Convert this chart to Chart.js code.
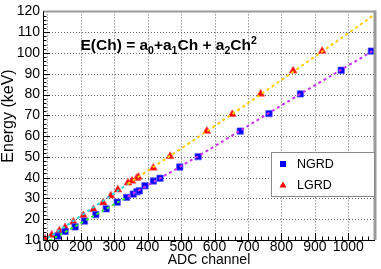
<!DOCTYPE html>
<html lang="en">
<head>
<meta charset="UTF-8" />
<title>ADC energy calibration</title>
<script src="https://cdn.jsdelivr.net/npm/chart.js"></script>
<style>
  html, body { margin: 0; padding: 0; background: #fff; }
  canvas { display: block; }
</style>
</head>
<body>
<canvas id="calib" width="381" height="269"></canvas>
<script>
// NGRD calibration points
const ngrdCh = [131, 153, 183, 211, 245, 276, 309, 337, 357, 368, 375, 392, 417, 437, 496, 551, 677, 763, 857, 979, 1069];
const ngrdE  = [11.9, 14.1, 16.3, 19.1, 22.2, 25.0, 28.2, 30.5, 32.1, 33.2, 33.7, 36.1, 38.4, 39.7, 45.1, 50.1, 62.4, 70.8, 80.3, 91.7, 100.9];

// LGRD calibration points
const lgrdCh = [93, 113, 136, 153, 178, 208, 238, 267, 290, 311, 341, 353, 367, 372, 417, 467, 577, 653, 738, 835, 922];
const lgrdE  = [10.5, 12.4, 14.4, 16.0, 18.7, 21.8, 24.7, 27.9, 31.3, 34.2, 37.5, 38.4, 39.7, 40.3, 44.7, 50.3, 62.4, 70.5, 80.3, 91.4, 100.9];

// fit curves as they appear on the plot (low range / high range)
const ngrdLowCh  = [90, 210, 340];
const ngrdLowE   = [8.2, 19.0, 30.8];
const ngrdHighCh = [340, 550, 850, 1080];
const ngrdHighE  = [30.8, 50.3, 79.6, 101.6];
const lgrdLowCh  = [85, 200, 340];
const lgrdLowE   = [9.2, 21.6, 36.9];
const lgrdHighCh = [340, 600, 850, 1080];
const lgrdHighE  = [36.9, 64.8, 92.6, 118.6];

const xTicks = [100, 200, 300, 400, 500, 600, 700, 800, 900, 1000];
const yTicks = [10, 20, 30, 40, 50, 60, 70, 80, 90, 100, 110, 120];

const toXY = (xs, ys) => xs.map((x, i) => ({ x: x, y: ys[i] }));
const FONT = "'Liberation Sans', Arial, sans-serif";

Chart.defaults.font.family = FONT;
Chart.defaults.color = "#000";

function fitLine(label, xs, ys, color) {
  return {
    type: "line",
    label: label,
    data: toXY(xs, ys),
    borderColor: color,
    borderWidth: 2,
    borderDash: [3, 3],
    pointRadius: 0,
    fill: false,
    tension: 0.4,
    order: 0
  };
}

// ROOT-like grid, frame, inward ticks, formula and legend box
const rootDecor = {
  id: "rootDecor",
  beforeDatasetsDraw(chart) {
    const ctx = chart.ctx;
    const a = chart.chartArea;
    const xs = chart.scales.x, ys = chart.scales.y;
    ctx.save();
    ctx.strokeStyle = "#666";
    ctx.lineWidth = 1;
    ctx.setLineDash([1, 2]);
    ctx.beginPath();
    xTicks.forEach(v => {
      const px = Math.round(xs.getPixelForValue(v)) + 0.5;
      ctx.moveTo(px, a.top);
      ctx.lineTo(px, a.bottom);
    });
    yTicks.forEach(v => {
      const py = Math.round(ys.getPixelForValue(v)) + 0.5;
      ctx.moveTo(a.left, py);
      ctx.lineTo(a.right, py);
    });
    ctx.stroke();
    ctx.restore();
  },
  afterDatasetsDraw(chart) {
    const ctx = chart.ctx;
    const a = chart.chartArea;
    const xs = chart.scales.x, ys = chart.scales.y;
    ctx.save();
    ctx.strokeStyle = "#000";
    ctx.lineWidth = 1;
    ctx.beginPath();
    for (let v = 100; v <= xs.max; v += 20) {
      const px = Math.round(xs.getPixelForValue(v)) + 0.5;
      const len = v % 100 === 0 ? 7 : 3.5;
      ctx.moveTo(px, a.bottom);
      ctx.lineTo(px, a.bottom - len);
    }
    for (let v = ys.min; v <= ys.max; v += 2) {
      const py = Math.round(ys.getPixelForValue(v)) + 0.5;
      const len = v % 10 === 0 ? 7 : 3.5;
      ctx.moveTo(a.left, py);
      ctx.lineTo(a.left + len, py);
    }
    ctx.stroke();

    // gray frame on top / right
    ctx.strokeStyle = "#9a9a9a";
    ctx.lineWidth = 2;
    ctx.beginPath();
    ctx.moveTo(a.left, a.top);
    ctx.lineTo(a.right, a.top);
    ctx.stroke();
    ctx.lineWidth = 3;
    ctx.beginPath();
    ctx.moveTo(a.right, a.top - 1);
    ctx.lineTo(a.right, a.bottom);
    ctx.stroke();

    // axes
    ctx.strokeStyle = "#000";
    ctx.lineWidth = 1;
    ctx.beginPath();
    ctx.moveTo(a.left + 0.5, a.top);
    ctx.lineTo(a.left + 0.5, a.bottom + 0.5);
    ctx.lineTo(a.right, a.bottom + 0.5);
    ctx.stroke();
    ctx.restore();
  },
  afterDraw(chart) {
    const ctx = chart.ctx;
    ctx.save();

    // y axis title
    ctx.translate(8.5, 116);
    ctx.rotate(-Math.PI / 2);
    ctx.font = "16px " + FONT;
    ctx.fillStyle = "#000";
    ctx.textAlign = "center";
    ctx.textBaseline = "middle";
    ctx.fillText("Energy (keV)", 0, 0);
    ctx.setTransform(1, 0, 0, 1, 0, 0);
    ctx.textAlign = "left";

    // formula
    const big = "bold 15.5px " + FONT;
    const small = "bold 10.5px " + FONT;
    const parts = [
      ["E(Ch) = a", big, 0], ["0", small, 4],
      ["+a", big, 0], ["1", small, 4],
      ["Ch + a", big, 0], ["2", small, 4],
      ["Ch", big, 0], ["2", small, -6]
    ];
    let x = 80.5;
    const base = 50;
    ctx.textBaseline = "alphabetic";
    parts.forEach(([t, f, dy]) => {
      ctx.font = f;
      ctx.fillText(t, x, base + dy);
      x += ctx.measureText(t).width;
    });

    // legend
    const lx = 271, ly = 152, lw = 103, lh = 44;
    ctx.fillStyle = "#fff";
    ctx.fillRect(lx, ly, lw, lh);
    ctx.strokeStyle = "#8a8a8a";
    ctx.lineWidth = 1;
    ctx.strokeRect(lx + 0.5, ly + 0.5, lw, lh);

    const items = chart.data.datasets.filter(d => d.type === "scatter");
    items.forEach((d, i) => {
      const cy = ly + 12 + i * 21;
      const cx = 283;
      ctx.fillStyle = d.backgroundColor;
      if (d.pointStyle === "rect") {
        ctx.fillRect(cx - 3, cy - 3, 6, 6);
      } else {
        ctx.beginPath();
        ctx.moveTo(cx, cy - 3.5);
        ctx.lineTo(cx + 3.5, cy + 2.5);
        ctx.lineTo(cx - 3.5, cy + 2.5);
        ctx.closePath();
        ctx.fill();
      }
      ctx.fillStyle = "#000";
      ctx.font = "12.5px " + FONT;
      ctx.textBaseline = "middle";
      ctx.fillText(d.label, 297, cy + 1);
    });
    ctx.restore();
  }
};

new Chart(document.getElementById("calib"), {
  data: {
    datasets: [
      fitLine("NGRD fit low", ngrdLowCh, ngrdLowE, "#33ee33"),
      fitLine("NGRD fit high", ngrdHighCh, ngrdHighE, "#cc33ee"),
      fitLine("LGRD fit low", lgrdLowCh, lgrdLowE, "#33cccc"),
      fitLine("LGRD fit high", lgrdHighCh, lgrdHighE, "#ffcc00"),
      {
        type: "scatter",
        label: "NGRD",
        data: toXY(ngrdCh, ngrdE),
        pointStyle: "rect",
        pointRadius: 4.5,
        backgroundColor: "#0000ff",
        borderColor: "rgba(90,90,255,0.7)",
        borderWidth: 1,
        order: 1
      },
      {
        type: "scatter",
        label: "LGRD",
        data: toXY(lgrdCh, lgrdE),
        pointStyle: "triangle",
        pointRadius: 4.5,
        backgroundColor: "#ff0000",
        borderColor: "rgba(255,80,80,0.7)",
        borderWidth: 1,
        order: 1
      }
    ]
  },
  options: {
    responsive: false,
    animation: false,
    devicePixelRatio: 1,
    layout: { padding: { top: 8, right: 6, left: 0, bottom: 0 } },
    plugins: {
      legend: { display: false },
      tooltip: { enabled: false }
    },
    scales: {
      x: {
        type: "linear",
        min: 87,
        max: 1080,
        afterBuildTicks: s => { s.ticks = xTicks.map(v => ({ value: v })); },
        afterFit: s => { s.height = 29; },
        ticks: {
          autoSkip: false, maxRotation: 0, padding: -1, font: { size: 14 },
          callback: v => String(v)
        },
        grid: { display: false, drawTicks: false },
        border: { display: false },
        title: { display: true, text: "ADC channel", font: { size: 14 }, padding: 0 }
      },
      y: {
        type: "linear",
        min: 10,
        max: 120,
        afterBuildTicks: s => { s.ticks = yTicks.map(v => ({ value: v })); },
        afterFit: s => { s.width = 43; },
        ticks: {
          autoSkip: false, padding: 3, font: { size: 14 },
          callback: v => String(v)
        },
        grid: { display: false, drawTicks: false },
        border: { display: false },
        title: { display: false }
      }
    }
  },
  plugins: [rootDecor]
});
</script>
</body>
</html>
